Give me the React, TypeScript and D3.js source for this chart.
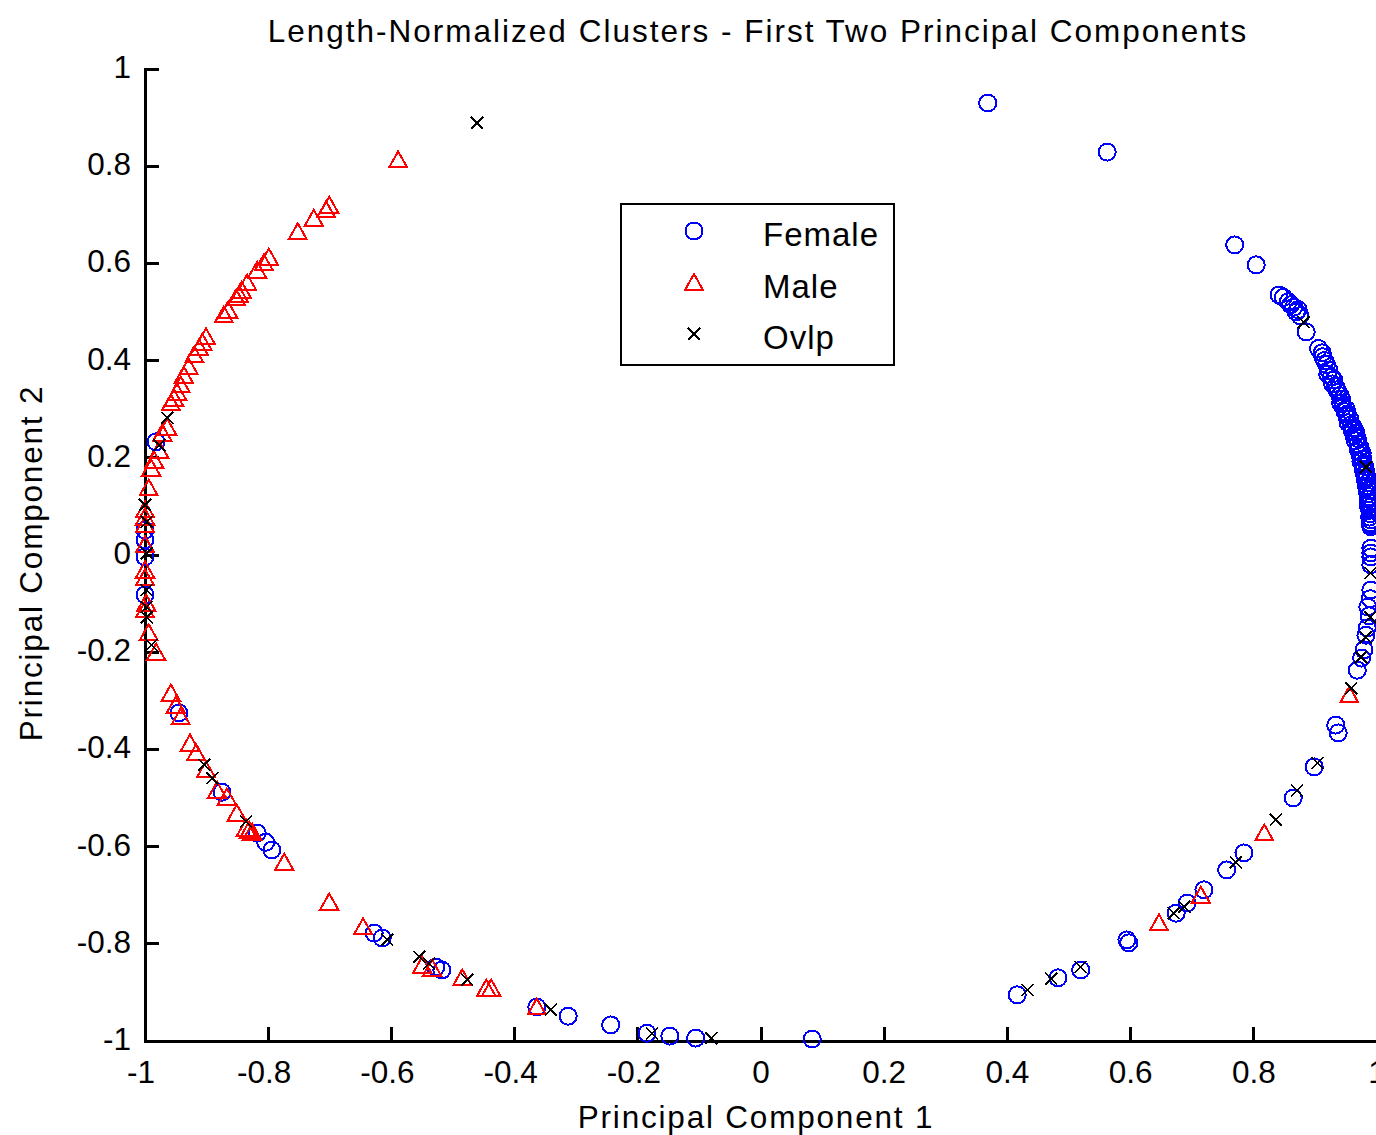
import React from 'react';
import * as d3 from 'd3';

// values (PC1, PC2)
const female: [number, number][] = [
  [0.368, 0.930], [0.562, 0.829], [0.769, 0.638], [0.804, 0.597],
  [0.841, 0.535], [0.848, 0.530], [0.856, 0.521], [0.860, 0.515],
  [0.865, 0.510], [0.869, 0.500], [0.872, 0.505], [0.875, 0.492],
  [0.885, 0.459], [0.911, 0.416], [0.905, 0.425], [0.912, 0.408],
  [0.915, 0.400], [0.918, 0.392], [0.922, 0.380], [0.920, 0.372],
  [0.926, 0.366], [0.930, 0.360], [0.928, 0.352], [0.933, 0.346],
  [0.935, 0.340], [0.937, 0.335], [0.940, 0.328], [0.943, 0.320],
  [0.941, 0.312], [0.945, 0.305], [0.950, 0.300], [0.948, 0.295],
  [0.952, 0.290], [0.951, 0.285], [0.956, 0.280], [0.953, 0.272],
  [0.958, 0.268], [0.962, 0.262], [0.960, 0.256], [0.966, 0.251],
  [0.963, 0.245], [0.968, 0.240], [0.965, 0.235], [0.969, 0.228],
  [0.972, 0.222], [0.970, 0.215], [0.976, 0.210], [0.973, 0.205],
  [0.977, 0.198], [0.974, 0.192], [0.977, 0.186], [0.980, 0.182],
  [0.978, 0.175], [0.982, 0.170], [0.980, 0.165], [0.984, 0.160],
  [0.981, 0.155], [0.985, 0.148], [0.983, 0.142], [0.984, 0.138],
  [0.986, 0.132], [0.985, 0.126], [0.987, 0.120], [0.986, 0.115],
  [0.987, 0.107], [0.986, 0.102], [0.988, 0.098], [0.988, 0.092],
  [0.989, 0.085], [0.988, 0.078], [0.990, 0.072], [0.989, 0.066],
  [0.990, 0.062], [0.990, 0.058],
  [0.990, 0.014], [0.990, 0.004], [0.990, -0.004], [0.990, -0.020],
  [0.990, -0.072], [0.989, -0.090], [0.985, -0.107], [0.987, -0.125],
  [0.984, -0.150], [0.982, -0.165], [0.979, -0.195], [0.975, -0.212],
  [0.968, -0.237], [0.933, -0.350],
  [0.937, -0.366], [0.898, -0.436], [0.864, -0.500], [0.784, -0.613],
  [0.756, -0.648], [0.719, -0.689], [0.692, -0.716], [0.674, -0.737],
  [0.597, -0.798], [0.594, -0.792], [0.519, -0.854], [0.482, -0.870],
  [0.416, -0.905], [0.083, -0.996], [-0.106, -0.994], [-0.148, -0.990],
  [-0.185, -0.984], [-0.244, -0.967], [-0.313, -0.949], [-0.364, -0.930],
  [-0.518, -0.854], [-0.528, -0.848], [-0.615, -0.788], [-0.628, -0.778],
  [-0.794, -0.607], [-0.804, -0.591], [-0.818, -0.572], [-0.875, -0.488],
  [-0.945, -0.325], [-0.982, 0.233], [-1.0, 0.051], [-1.0, 0.031],
  [-1.0, -0.004], [-1.0, -0.082],
];

const male: [number, number][] = [
  [-0.589, 0.813], [-0.701, 0.720], [-0.706, 0.710], [-0.726, 0.693],
  [-0.752, 0.665], [-0.799, 0.613], [-0.807, 0.601], [-0.818, 0.586],
  [-0.834, 0.560], [-0.843, 0.545], [-0.847, 0.535], [-0.852, 0.529],
  [-0.865, 0.504], [-0.872, 0.494], [-0.901, 0.449], [-0.907, 0.438],
  [-0.912, 0.426], [-0.920, 0.412], [-0.929, 0.387], [-0.937, 0.370],
  [-0.942, 0.350], [-0.948, 0.335], [-0.953, 0.323], [-0.958, 0.313],
  [-0.964, 0.263], [-0.972, 0.251], [-0.977, 0.216], [-0.985, 0.195],
  [-0.990, 0.179], [-0.994, 0.138], [-1.0, 0.093], [-1.0, 0.078],
  [-1.0, 0.062], [-1.0, 0.021], [-1.0, -0.031], [-1.0, -0.047],
  [-0.998, -0.099], [-1.0, -0.113], [-0.994, -0.160], [-0.982, -0.200],
  [-0.958, -0.284], [-0.950, -0.309], [-0.942, -0.333], [-0.927, -0.387],
  [-0.917, -0.407], [-0.901, -0.442], [-0.883, -0.484], [-0.867, -0.498],
  [-0.851, -0.531], [-0.836, -0.562], [-0.831, -0.566], [-0.826, -0.570],
  [-0.774, -0.632], [-0.701, -0.714], [-0.646, -0.765], [-0.550, -0.844],
  [-0.534, -0.850], [-0.485, -0.870], [-0.446, -0.891], [-0.438, -0.891],
  [-0.364, -0.930], [0.955, -0.288], [0.817, -0.572], [0.714, -0.700],
  [0.646, -0.757],
];

const ovlp: [number, number][] = [
  [-0.461, 0.889], [0.881, 0.479], [0.982, 0.181], [0.990, -0.037],
  [0.989, -0.128], [0.982, -0.169], [0.974, -0.210], [0.958, -0.274],
  [0.903, -0.428], [0.870, -0.484], [0.836, -0.545], [0.771, -0.632],
  [0.687, -0.724], [0.670, -0.737], [0.519, -0.848], [0.471, -0.872],
  [0.433, -0.895], [-0.081, -0.994], [-0.177, -0.984], [-0.341, -0.936],
  [-0.477, -0.874], [-0.539, -0.840], [-0.555, -0.827], [-0.607, -0.792],
  [-0.836, -0.549], [-0.891, -0.459], [-0.904, -0.432], [-0.989, -0.185],
  [-0.997, -0.128], [-0.997, -0.107], [-0.997, -0.072], [-0.997, 0.004],
  [-0.997, 0.068], [-1.0, 0.103], [-0.977, 0.226], [-0.964, 0.282],
];

const xTicks = [-1, -0.8, -0.6, -0.4, -0.2, 0, 0.2, 0.4, 0.6, 0.8, 1];
const yTicks = [-1, -0.8, -0.6, -0.4, -0.2, 0, 0.2, 0.4, 0.6, 0.8, 1];
const legendLabels = ['Female', 'Male', 'Ovlp'];

const FONT = '"Liberation Sans", Arial, sans-serif';

const Circle = ({ x, y }: { x: number; y: number }) => (
  <circle cx={x} cy={y} r={8.5} fill="none" stroke="#0000ff" strokeWidth={2} />
);
const Tri = ({ x, y }: { x: number; y: number }) => (
  <path d={`M${x},${y - 8.5}L${x + 9},${y + 7.5}L${x - 9},${y + 7.5}Z`} fill="none" stroke="#ff0000" strokeWidth={2} />
);
const Cross = ({ x, y }: { x: number; y: number }) => (
  <path d={`M${x - 6},${y - 6}L${x + 6},${y + 6}M${x - 6},${y + 6}L${x + 6},${y - 6}`} stroke="#000" strokeWidth={1.6} />
);

const fmt = (t: number) => String(Math.round(t * 10) / 10);

export default function App() {
  const width = 1376;
  const height = 1135;
  const x = d3.scaleLinear().domain([-1, 1]).range([145, 1377]);
  const y = d3.scaleLinear().domain([-1, 1]).range([1041, 69]);

  const markers = [Circle, Tri, Cross];

  return (
    <svg width={width} height={height} style={{ position: 'absolute', left: 0, top: 0, background: '#fff' }}
      fontFamily={FONT} shapeRendering="crispEdges">
      <rect width={width} height={height} fill="#fff" />
      {/* title */}
      <text x={758} y={42} fontSize={31.5} letterSpacing={2} textAnchor="middle">
        Length-Normalized Clusters - First Two Principal Components
      </text>

      {/* axes */}
      <line x1={x(-1)} x2={x(1)} y1={y(-1)} y2={y(-1)} stroke="#000" strokeWidth={3} />
      <line x1={x(-1)} x2={x(-1)} y1={y(-1) + 1.5} y2={y(1) - 1.5} stroke="#000" strokeWidth={3} />
      {xTicks.map(t => (
        <g key={'xt' + t}>
          <line x1={x(t)} x2={x(t)} y1={y(-1)} y2={y(-1) - 14} stroke="#000" strokeWidth={3} />
          <text x={x(t) + (t < 0 ? -4 : 0)} y={1083} fontSize={31.5} textAnchor="middle">{fmt(t)}</text>
        </g>
      ))}
      {yTicks.map(t => (
        <g key={'yt' + t}>
          <line x1={x(-1)} x2={x(-1) + 14} y1={y(t)} y2={y(t)} stroke="#000" strokeWidth={3} />
          <text x={131} y={y(t) + 9} fontSize={31.5} textAnchor="end">{fmt(t)}</text>
        </g>
      ))}
      <text x={756} y={1128} fontSize={31.5} letterSpacing={1.8} textAnchor="middle">Principal Component 1</text>
      <text transform="translate(42,563) rotate(-90)" fontSize={31.5} letterSpacing={1.8} textAnchor="middle">Principal Component 2</text>

      {/* data */}
      <g>{female.map((d, i) => <Circle key={'f' + i} x={x(d[0])} y={y(d[1])} />)}</g>
      <g>{male.map((d, i) => <Tri key={'m' + i} x={x(d[0])} y={y(d[1])} />)}</g>
      <g>{ovlp.map((d, i) => <Cross key={'o' + i} x={x(d[0])} y={y(d[1])} />)}</g>

      {/* legend */}
      <rect x={620.5} y={203.5} width={273} height={161} fill="#fff" stroke="#000" strokeWidth={2} />
      {legendLabels.map((name, i) => {
        const M = markers[i];
        const cy = 231 + i * 51.5;
        return (
          <g key={name}>
            <M x={694} y={cy} />
            <text x={763} y={cy + 15} fontSize={33} letterSpacing={1}>{name}</text>
          </g>
        );
      })}
    </svg>
  );
}
